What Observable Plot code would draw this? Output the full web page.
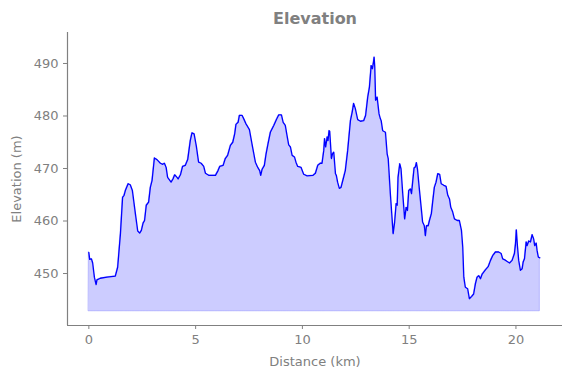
<!DOCTYPE html>
<html>
<head>
<meta charset="utf-8">
<script src="https://cdn.jsdelivr.net/npm/d3@7"></script>
<script src="https://cdn.jsdelivr.net/npm/@observablehq/plot@0.6"></script>
<style>
  html, body { margin: 0; padding: 0; background: white; }
</style>
</head>
<body>
<div id="chart"></div>
<script>
const distance = [
  0.00, 0.04, 0.12, 0.18, 0.26, 0.34, 0.38, 0.54, 0.85, 1.24, 1.35, 1.48, 1.58, 1.65, 1.71, 1.84, 1.94, 2.04, 2.18, 2.29,
  2.38, 2.46, 2.54, 2.61, 2.69, 2.80, 2.88, 2.96, 3.07, 3.19, 3.35, 3.46, 3.54, 3.62, 3.69, 3.85, 3.94, 4.02, 4.13, 4.18,
  4.29, 4.39, 4.52, 4.63, 4.75, 4.83, 4.93, 5.04, 5.14, 5.26, 5.38, 5.46, 5.61, 5.93, 6.05, 6.13, 6.29, 6.39, 6.50, 6.63,
  6.74, 6.83, 6.89, 6.99, 7.05, 7.18, 7.25, 7.36, 7.52, 7.64, 7.80, 7.91, 8.00, 8.05, 8.11, 8.22, 8.30, 8.39, 8.50, 8.66,
  8.78, 8.89, 9.02, 9.10, 9.20, 9.28, 9.36, 9.44, 9.52, 9.63, 9.70, 9.78, 9.94, 10.06, 10.22, 10.50, 10.61, 10.72, 10.84, 10.92,
  11.00, 11.04, 11.09, 11.16, 11.20, 11.25, 11.28, 11.36, 11.41, 11.47, 11.55, 11.59, 11.65, 11.73, 11.81, 11.91, 12.01, 12.12, 12.25, 12.33,
  12.40, 12.48, 12.59, 12.72, 12.87, 12.96, 13.06, 13.14, 13.22, 13.28, 13.33, 13.36, 13.39, 13.43, 13.50, 13.59, 13.65, 13.69, 13.76, 13.89,
  13.97, 14.02, 14.12, 14.25, 14.32, 14.39, 14.44, 14.48, 14.56, 14.62, 14.70, 14.79, 14.86, 14.92, 14.98, 15.06, 15.11, 15.17, 15.23, 15.29,
  15.34, 15.39, 15.47, 15.57, 15.63, 15.71, 15.76, 15.81, 15.89, 15.95, 16.04, 16.10, 16.18, 16.26, 16.34, 16.43, 16.50, 16.62, 16.73, 16.81,
  16.89, 16.95, 17.04, 17.12, 17.25, 17.35, 17.45, 17.51, 17.56, 17.63, 17.74, 17.82, 17.92, 18.02, 18.10, 18.18, 18.26, 18.34, 18.42, 18.57,
  18.70, 18.81, 18.91, 19.04, 19.19, 19.31, 19.38, 19.48, 19.59, 19.70, 19.82, 19.93, 19.98, 20.02, 20.07, 20.13, 20.21, 20.29, 20.34, 20.40,
  20.48, 20.52, 20.60, 20.68, 20.76, 20.83, 20.88, 20.95, 20.99, 21.05, 21.12
];
const elevation = [
  454.0, 452.7, 452.8, 452.0, 449.3, 447.9, 448.8, 449.1, 449.3, 449.5, 451.2, 457.6, 464.5, 464.9, 465.8, 467.1, 466.9, 465.8, 461.4, 458.1,
  457.7, 458.2, 459.6, 460.1, 463.0, 463.6, 466.4, 467.7, 472.0, 471.7, 471.0, 470.8, 471.0, 470.2, 468.3, 467.4, 468.0, 468.8, 468.3, 468.0,
  468.8, 470.4, 470.6, 471.7, 475.3, 476.8, 476.6, 474.1, 471.2, 471.0, 470.4, 469.1, 468.7, 468.7, 469.6, 470.4, 470.6, 471.9, 472.5, 474.4,
  475.0, 476.6, 478.4, 478.8, 480.1, 480.1, 479.5, 478.5, 477.4, 474.7, 471.2, 470.2, 469.6, 468.7, 469.8, 470.6, 472.8, 474.7, 476.9, 478.2,
  479.3, 480.2, 480.2, 478.8, 478.2, 476.3, 474.5, 474.1, 472.5, 472.2, 471.2, 470.4, 470.2, 468.9, 468.6, 468.7, 469.1, 470.6, 471.0, 471.0,
  473.4, 475.7, 474.1, 476.0, 475.3, 477.2, 477.1, 471.9, 472.8, 473.1, 469.0, 468.7, 467.4, 466.2, 466.4, 468.0, 469.6, 473.4, 479.1, 480.7,
  482.4, 481.4, 479.3, 479.0, 479.1, 480.1, 483.6, 485.5, 489.6, 489.0, 490.3, 491.2, 489.3, 483.0, 483.6, 480.4, 479.5, 479.1, 477.2, 476.9,
  472.8, 471.9, 465.2, 457.6, 459.8, 463.3, 463.0, 468.3, 470.9, 469.9, 465.2, 460.4, 462.6, 462.0, 465.8, 466.1, 465.2, 467.7, 470.1, 470.3,
  471.1, 469.9, 466.4, 462.3, 459.8, 459.1, 457.2, 459.1, 459.1, 460.1, 461.4, 463.6, 466.4, 467.4, 469.0, 468.9, 467.1, 466.8, 466.6, 464.9,
  464.2, 462.6, 461.7, 460.4, 460.1, 460.1, 458.2, 455.0, 449.3, 447.4, 447.1, 445.2, 445.6, 446.1, 448.0, 449.3, 449.6, 449.0, 449.9, 450.7,
  451.3, 452.5, 453.4, 454.1, 454.1, 453.8, 452.8, 452.6, 452.3, 452.0, 452.5, 453.8, 455.7, 458.3, 455.3, 452.5, 450.6, 450.9, 452.2, 452.8,
  456.0, 455.3, 456.2, 456.0, 457.4, 456.6, 455.3, 455.8, 454.4, 453.1, 453.0
];
const fillFloor = 442.8;
const xTicks = [0, 5, 10, 15, 20];
const yTicks = [450, 460, 470, 480, 490];
const xDomain = [-1.0, 22.18];
const yDomain = [440.1, 495.9];

const data = distance.map((d, i) => ({d, e: elevation[i]}));
const gray = "#808080";

const chart = Plot.plot({
  width: 571,
  height: 378,
  marginTop: 32,
  marginLeft: 67,
  marginRight: 9,
  marginBottom: 53,
  style: {fontFamily: "DejaVu Sans", fontSize: "13px", color: gray, background: "white"},
  x: {domain: xDomain},
  y: {domain: yDomain},
  marks: [
    Plot.areaY(data, {x: "d", y1: fillFloor, y2: "e", fill: "blue", fillOpacity: 0.2, stroke: "blue", strokeOpacity: 0.2, curve: "linear"}),
    Plot.lineY(data, {x: "d", y: "e", stroke: "blue", strokeWidth: 1.3, curve: "linear"}),
    Plot.ruleX([xDomain[0]], {stroke: gray, strokeWidth: 1.2}),
    Plot.ruleY([yDomain[0]], {stroke: gray, strokeWidth: 1.2}),
    Plot.axisX({ticks: xTicks, tickSize: 4, tickPadding: 5, stroke: gray, fill: gray, fontSize: 13,
      label: "Distance (km)", labelAnchor: "center", labelArrow: "none", labelOffset: 40}),
    Plot.axisY({ticks: yTicks, tickSize: 4, tickPadding: 5, stroke: gray, fill: gray, fontSize: 13,
      label: "Elevation (m)", labelAnchor: "center", labelArrow: "none", labelOffset: 56}),
    Plot.text(["Elevation"], {frameAnchor: "top", dy: -20, text: d => d, fontWeight: "bold", fontSize: 16, fill: gray})
  ]
});
document.getElementById("chart").appendChild(chart);
</script>
</body>
</html>
